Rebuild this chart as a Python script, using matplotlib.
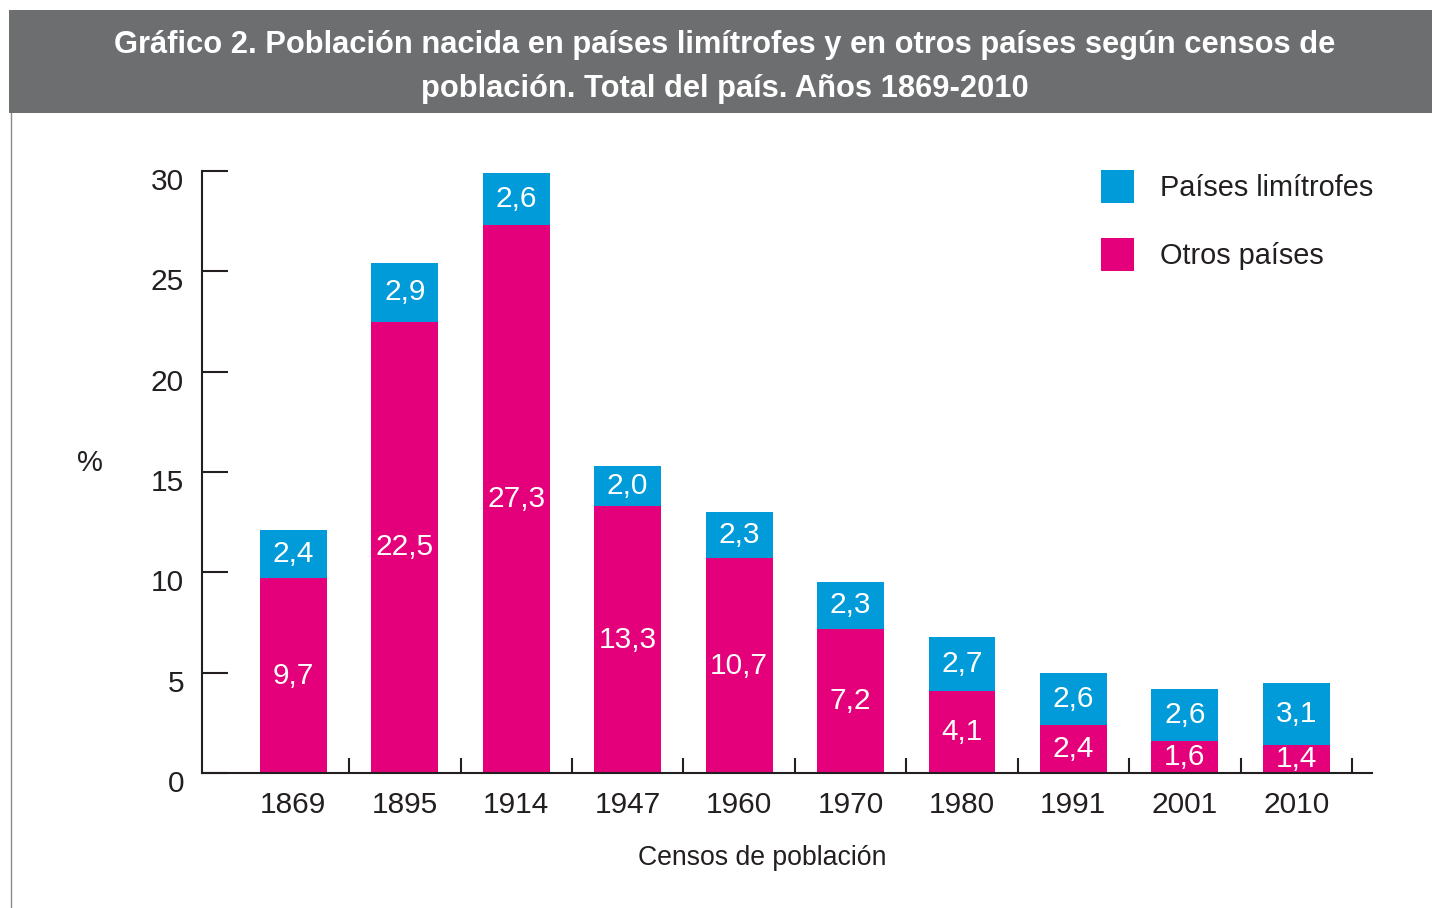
import matplotlib
matplotlib.use('Agg')
import matplotlib.pyplot as plt
import matplotlib.transforms as mtransforms
import numpy as np
from matplotlib.patches import Rectangle
from matplotlib.lines import Line2D

plt.rcParams['font.family'] = ['Liberation Sans', 'DejaVu Sans']

# datos
censos = ['1869', '1895', '1914', '1947', '1960', '1970', '1980', '1991', '2001', '2010']
otros = [9.7, 22.5, 27.3, 13.3, 10.7, 7.2, 4.1, 2.4, 1.6, 1.4]
limitrofes = [2.4, 2.9, 2.6, 2.0, 2.3, 2.3, 2.7, 2.6, 2.6, 3.1]
yticks = [0, 5, 10, 15, 20, 25, 30]

colLim = '#009bd8'
colOtr = '#e4007a'
colTxt = '#231f20'

fig = plt.figure(figsize=(14.32, 9.08), dpi=100)
fig.patch.set_facecolor('white')

#------------------ encabezado
fig.patches.append(Rectangle((9/1432, 1-113/908), 1-9/1432, 103/908,
                             transform=fig.transFigure, facecolor='#6d6e70',
                             edgecolor='none'))
fig.lines.append(Line2D([10.5/1432, 10.5/1432], [0, 1-113/908],
                        transform=fig.transFigure, color='#8a8a8a', lw=1))
fig.text(725/1432, 1-67/908,
         u'Gráfico 2. Población nacida en países limítrofes y en otros países según censos de\n'
         u'población. Total del país. Años 1869-2010',
         ha='center', va='center', color='white', fontsize=22.2, fontweight='bold',
         linespacing=1.6)

#------------------
ax0 = fig.add_axes([202/1432, 1-773/908, (1372-202)/1432, (773-171)/908])

x = np.arange(len(censos))
b1 = ax0.bar(x, otros, width=0.6, color=colOtr, label=u'Otros países')
b2 = ax0.bar(x, limitrofes, width=0.6, bottom=otros, color=colLim, label=u'Países limítrofes')

fmt = lambda v: ('%.1f' % v).replace('.', ',')
ax0.bar_label(b1, labels=[fmt(v) for v in otros], label_type='center',
              color='white', fontsize=21.5)
ax0.bar_label(b2, labels=[fmt(v) for v in limitrofes], label_type='center',
              color='white', fontsize=21.5)

ax0.set_xlim(-0.82, 9.68)
ax0.set_ylim(0, 30)
ax0.set_yticks(yticks)
ax0.set_yticklabels([str(t) for t in yticks])
ax0.set_xticks(x)
ax0.set_xticklabels(censos)
ax0.set_xticks(x + 0.5, minor=True)

for s in ['top', 'right']:
    ax0.spines[s].set_visible(False)
for s in ['left', 'bottom']:
    ax0.spines[s].set_linewidth(1.5)
    ax0.spines[s].set_color(colTxt)

ax0.tick_params(axis='y', direction='in', length=19, width=1.5, color=colTxt,
                labelsize=21.5, labelcolor=colTxt, pad=13)
ax0.tick_params(axis='x', which='major', length=0, labelsize=21.5,
                labelcolor=colTxt, pad=13)
ax0.tick_params(axis='x', which='minor', direction='in', length=11, width=1.5,
                color=colTxt)

# etiquetas del eje y un poco por debajo de la marca
offs = mtransforms.ScaledTranslation(0, -8/100, fig.dpi_scale_trans)
for lbl in ax0.get_yticklabels():
    lbl.set_transform(lbl.get_transform() + offs)

ax0.set_xlabel(u'Censos de población', fontsize=19.2, color=colTxt)
ax0.xaxis.set_label_coords((762-202)/1170, -(858-773)/602)
ax0.xaxis.label.set_va('center')
fig.text(90/1432, 1-463/908, '%', ha='center', va='center', fontsize=21, color=colTxt)

#------------------
ax0.legend([b2, b1], [u'Países limítrofes', u'Otros países'],
           loc='upper left', bbox_to_anchor=(1101/1432, 1-170/908),
           bbox_transform=fig.transFigure, frameon=False, fontsize=20.8,
           handlelength=1.14, handleheight=1.40, handletextpad=0.9,
           labelspacing=1.2, borderpad=0, borderaxespad=0, labelcolor=colTxt)

plt.savefig('out.png', dpi=100)
